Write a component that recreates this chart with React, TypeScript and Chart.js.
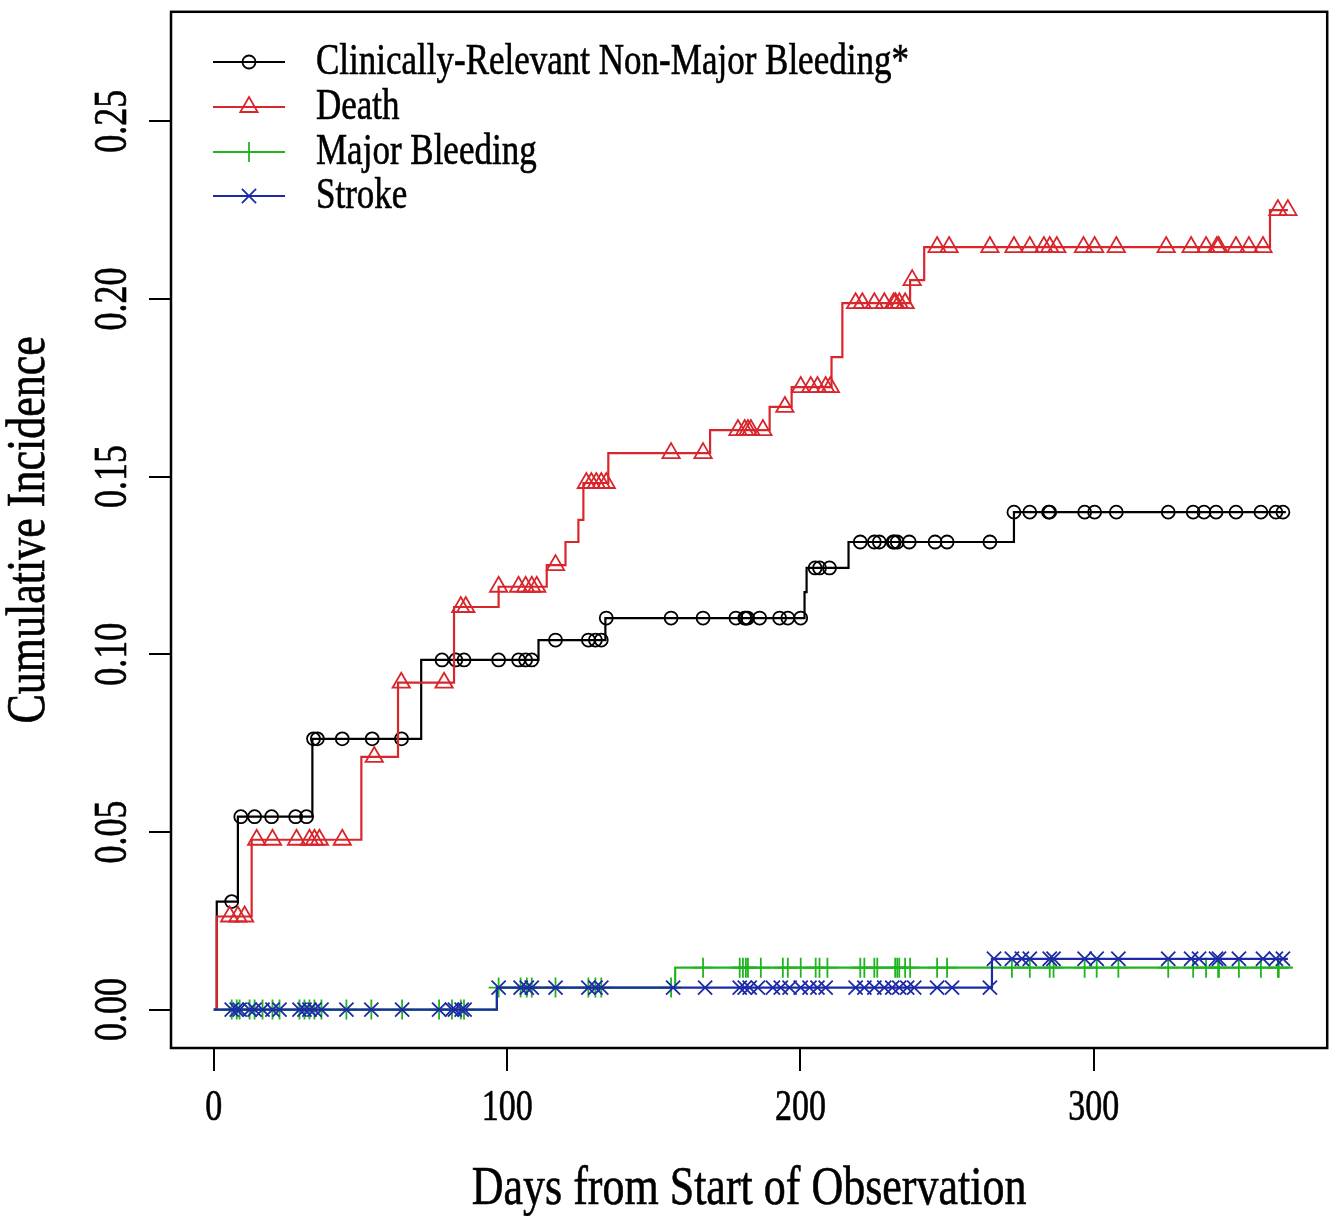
import React, { useEffect, useRef } from "react";
import { Chart, registerables } from "chart.js";

Chart.register(...registerables);

// ---------- data ----------
const seriesLabels = [
  "Clinically-Relevant Non-Major Bleeding*",
  "Death",
  "Major Bleeding",
  "Stroke",
];
const seriesColors = ["#000000", "#d8262c", "#1fb51f", "#1c2aa8"];

const xTickValues = [0, 100, 200, 300];
const xTickLabels = ["0", "100", "200", "300"];
const yTickValues = [0, 0.05, 0.1, 0.15, 0.2, 0.25];
const yTickLabels = ["0.00", "0.05", "0.10", "0.15", "0.20", "0.25"];
const xTitle = "Days from Start of Observation";
const yTitle = "Cumulative Incidence";

// Clinically-Relevant Non-Major Bleeding (black)
const crnmbTimes = [0, 1.0, 8.2, 33.6, 70.7, 110.7, 133.5, 201.4, 202.1, 216.4, 272.8, 365.5];
const crnmbValues = [0, 0.0304, 0.0543, 0.0762, 0.0984, 0.104, 0.1102, 0.1175, 0.1243, 0.1316, 0.14, 0.14];
const crnmbCensor = [
  6.1, 9.2, 13.9, 19.7, 27.9, 31.6, 34.0, 35.3, 43.8, 54.0, 64.0, 77.8, 82.5, 85.3, 97.1,
  103.9, 106.3, 108.4, 116.5, 127.7, 130.1, 132.1, 133.8, 155.9, 166.8, 178.0, 181.0, 181.4,
  182.0, 186.1, 192.9, 195.7, 200.1, 205.0, 206.5, 209.9, 220.4, 225.2, 226.9, 231.6, 232.0,
  233.0, 237.1, 245.9, 250.0, 264.6, 272.8, 278.2, 284.6, 285.0, 296.9, 300.3, 307.7, 325.4,
  333.9, 337.6, 341.7, 348.5, 357.0, 362.1, 364.5,
];

// Death (red)
const deathTimes = [0, 1.0, 12.9, 50.3, 62.8, 81.9, 97.1, 113.5, 119.9, 124.3, 126.0, 134.5, 169.2, 189.5, 197.0, 210.6, 214.3, 237.4, 242.2, 360.1, 366.2];
const deathValues = [0, 0.0262, 0.0478, 0.0711, 0.092, 0.1133, 0.119, 0.1251, 0.1316, 0.1378, 0.1482, 0.1566, 0.1631, 0.1696, 0.1752, 0.1836, 0.1988, 0.2053, 0.2146, 0.225, 0.225];
const deathCensor = [
  5.4, 8.2, 10.5, 14.6, 20.0, 28.2, 32.6, 34.3, 36.0, 43.8, 54.7, 63.9, 78.5, 84.2, 85.9,
  97.1, 103.9, 106.3, 108.4, 110.1, 116.5, 127.0, 128.7, 130.4, 132.1, 133.8, 155.9, 166.8,
  178.7, 181.0, 182.1, 183.1, 187.2, 194.7, 200.1, 203.5, 205.8, 208.6, 210.2, 218.8, 221.1,
  225.2, 228.6, 231.8, 232.4, 233.7, 235.7, 238.1, 246.6, 250.7, 264.6, 272.8, 278.2, 283.0,
  285.0, 287.4, 296.5, 300.3, 307.7, 324.7, 333.2, 338.3, 342.0, 342.6, 348.5, 352.9, 357.7,
  362.8, 366.2,
];

// Major Bleeding (green)
const majorTimes = [0, 96.5, 157.3, 367.9];
const majorValues = [0, 0.0062, 0.0118, 0.0118];
const majorCensor = [
  6.1, 7.8, 8.8, 12.2, 13.9, 16.6, 20.0, 22.4, 29.2, 30.9, 32.6, 34.3, 36.7, 45.2, 53.7, 64.2,
  76.8, 81.2, 84.2, 85.3, 97.1, 104.6, 106.7, 108.4, 116.5, 127.7, 130.1, 132.1, 155.9, 166.8,
  179.3, 180.4, 181.4, 182.1, 186.5, 194.0, 195.7, 200.1, 205.2, 206.5, 209.2, 220.4, 221.8,
  225.2, 226.2, 232.3, 233.0, 233.7, 235.7, 237.4, 246.6, 250.0, 272.1, 278.2, 285.0, 286.3,
  296.9, 301.0, 308.4, 325.4, 333.9, 338.3, 342.4, 342.7, 349.5, 357.0, 362.8, 363.1,
];

// Stroke (blue)
const strokeTimes = [0, 96.5, 265.3, 366.2];
const strokeValues = [0, 0.0062, 0.0143, 0.0143];
const strokeCensor = [
  6.1, 7.8, 8.8, 12.2, 13.9, 16.6, 20.0, 22.4, 29.2, 30.9, 32.6, 34.3, 36.7, 45.2, 53.7, 64.2,
  76.8, 81.2, 82.2, 84.5, 85.5, 97.1, 104.6, 106.7, 108.4, 116.5, 127.7, 130.1, 132.1, 156.6,
  167.5, 179.3, 181.0, 182.7, 185.5, 190.6, 193.3, 196.3, 200.1, 203.1, 205.8, 208.6, 218.8,
  221.8, 225.2, 228.6, 231.3, 233.7, 236.4, 238.8, 246.6, 251.7, 264.6, 266.0, 272.1, 275.5,
  278.2, 285.0, 286.3, 296.9, 301.0, 308.4, 325.4, 333.2, 335.9, 341.7, 342.7, 349.5, 357.7,
  362.1, 364.5,
];

// ---------- helpers ----------
function stepPoints(times: number[], values: number[]) {
  return times.map((t, i) => ({ x: t, y: values[i] }));
}
function valueAt(times: number[], values: number[], t: number) {
  let v = values[0];
  for (let i = 0; i < times.length; i++) if (times[i] <= t + 1e-9) v = values[i];
  return v;
}
function censorPoints(times: number[], values: number[], cens: number[]) {
  return cens.map((t) => ({ x: t, y: valueAt(times, values, t) }));
}

const FONT = '"Liberation Serif", "Times New Roman", "DejaVu Serif", serif';

function txt(
  ctx: CanvasRenderingContext2D,
  s: string,
  x: number,
  y: number,
  size: number,
  rot: number,
  sx: number,
  sy: number,
  align: CanvasTextAlign = "center"
) {
  ctx.save();
  ctx.translate(x, y);
  ctx.rotate(rot);
  ctx.scale(sx, sy);
  ctx.font = `${size}px ${FONT}`;
  ctx.textAlign = align;
  ctx.textBaseline = "middle";
  ctx.fillStyle = "#000";
  ctx.strokeStyle = "#000";
  ctx.lineWidth = 0.5;
  ctx.fillText(s, 0, 0);
  ctx.strokeText(s, 0, 0);
  ctx.restore();
}

function marker(ctx: CanvasRenderingContext2D, style: string, x: number, y: number, r: number, color: string) {
  ctx.save();
  ctx.strokeStyle = color;
  ctx.lineWidth = 1.8;
  ctx.beginPath();
  if (style === "circle") {
    ctx.arc(x, y, r, 0, Math.PI * 2);
  } else if (style === "triangle") {
    let a = 0;
    ctx.moveTo(x + Math.sin(a) * r, y - Math.cos(a) * r);
    a += (Math.PI * 2) / 3;
    ctx.lineTo(x + Math.sin(a) * r, y - Math.cos(a) * r);
    a += (Math.PI * 2) / 3;
    ctx.lineTo(x + Math.sin(a) * r, y - Math.cos(a) * r);
    ctx.closePath();
  } else if (style === "cross") {
    ctx.moveTo(x, y - r);
    ctx.lineTo(x, y + r);
    ctx.moveTo(x - r, y);
    ctx.lineTo(x + r, y);
  } else {
    const o = Math.cos(Math.PI / 4) * r;
    ctx.moveTo(x - o, y - o);
    ctx.lineTo(x + o, y + o);
    ctx.moveTo(x + o, y - o);
    ctx.lineTo(x - o, y + o);
  }
  ctx.stroke();
  ctx.restore();
}

const markerStyles = ["circle", "triangle", "cross", "crossRot"];
const markerRadii = [6.5, 10, 10, 10];

const decorPlugin = {
  id: "decor",
  afterDraw(chart: any) {
    const { ctx, chartArea: a, scales } = chart;
    ctx.save();
    ctx.strokeStyle = "#000";
    ctx.lineWidth = 2.5;
    ctx.strokeRect(a.left, a.top, a.right - a.left, a.bottom - a.top);

    xTickValues.forEach((v, i) =>
      txt(ctx, xTickLabels[i], scales.x.getPixelForValue(v), 1109, 34, 0, 1, 1.28)
    );
    yTickValues.forEach((v, i) =>
      txt(ctx, yTickLabels[i], 114, scales.y.getPixelForValue(v), 36, -Math.PI / 2, 1, 1.3)
    );
    txt(ctx, xTitle, (a.left + a.right) / 2, 1190, 44, 0, 1, 1.25);
    txt(ctx, yTitle, 30, (a.top + a.bottom) / 2, 44, -Math.PI / 2, 1, 1.25);

    const rows = [62, 107, 152, 196];
    rows.forEach((ry, i) => {
      ctx.save();
      ctx.strokeStyle = seriesColors[i];
      ctx.lineWidth = 2.2;
      ctx.beginPath();
      ctx.moveTo(213, ry);
      ctx.lineTo(285, ry);
      ctx.stroke();
      ctx.restore();
      marker(ctx, markerStyles[i], 249, ry, markerRadii[i], seriesColors[i]);
      txt(ctx, seriesLabels[i], 316, ry, 35, 0, 1, 1.28, "left");
    });
    ctx.restore();
  },
};

function lineSet(label: string, times: number[], values: number[], color: string, order: number) {
  return {
    label,
    data: stepPoints(times, values),
    stepped: "before",
    borderColor: color,
    borderWidth: 2.2,
    pointRadius: 0,
    fill: false,
    order,
  };
}
function markSet(
  label: string,
  times: number[],
  values: number[],
  cens: number[],
  color: string,
  style: string,
  r: number,
  order: number
) {
  return {
    label,
    data: censorPoints(times, values, cens),
    showLine: false,
    pointStyle: style,
    pointRadius: r,
    pointBorderWidth: 1.8,
    pointBorderColor: color,
    pointBackgroundColor: "rgba(0,0,0,0)",
    borderColor: color,
    backgroundColor: "rgba(0,0,0,0)",
    order,
  };
}

export default function App() {
  const ref = useRef<HTMLCanvasElement | null>(null);
  useEffect(() => {
    if (!ref.current) return;
    const chart = new Chart(ref.current, {
      type: "line",
      data: {
        datasets: [
          lineSet(seriesLabels[0], crnmbTimes, crnmbValues, seriesColors[0], 8),
          markSet(seriesLabels[0] + " censored", crnmbTimes, crnmbValues, crnmbCensor, seriesColors[0], "circle", 6.5, 7),
          lineSet(seriesLabels[1], deathTimes, deathValues, seriesColors[1], 6),
          markSet(seriesLabels[1] + " censored", deathTimes, deathValues, deathCensor, seriesColors[1], "triangle", 10, 5),
          lineSet(seriesLabels[2], majorTimes, majorValues, seriesColors[2], 4),
          markSet(seriesLabels[2] + " censored", majorTimes, majorValues, majorCensor, seriesColors[2], "cross", 10, 3),
          lineSet(seriesLabels[3], strokeTimes, strokeValues, seriesColors[3], 2),
          markSet(seriesLabels[3] + " censored", strokeTimes, strokeValues, strokeCensor, seriesColors[3], "crossRot", 10, 1),
        ] as any,
      },
      options: {
        animation: false,
        responsive: false,
        devicePixelRatio: 1,
        layout: { padding: { left: 0, top: 10, right: 8, bottom: 0 } },
        plugins: { legend: { display: false }, tooltip: { enabled: false } },
        scales: {
          x: {
            type: "linear",
            min: -14.6,
            max: 379.6,
            afterBuildTicks: (s: any) => {
              s.ticks = xTickValues.map((v) => ({ value: v }));
            },
            afterFit: (s: any) => {
              s.height = 168;
            },
            ticks: { display: false },
            grid: { drawOnChartArea: false, drawTicks: true, tickLength: 23, color: "#000", lineWidth: 2 },
            border: { display: false },
          },
          y: {
            type: "linear",
            min: -0.0108,
            max: 0.2808,
            afterBuildTicks: (s: any) => {
              s.ticks = yTickValues.map((v) => ({ value: v }));
            },
            afterFit: (s: any) => {
              s.width = 171;
            },
            ticks: { display: false },
            grid: { drawOnChartArea: false, drawTicks: true, tickLength: 22, color: "#000", lineWidth: 2 },
            border: { display: false },
          },
        },
      } as any,
      plugins: [decorPlugin],
    });
    return () => chart.destroy();
  }, []);
  return (
    <div style={{ position: "absolute", left: 0, top: 0, width: 1339, height: 1216, background: "#fff" }}>
      <canvas ref={ref} width={1339} height={1216} style={{ display: "block" }} />
    </div>
  );
}
